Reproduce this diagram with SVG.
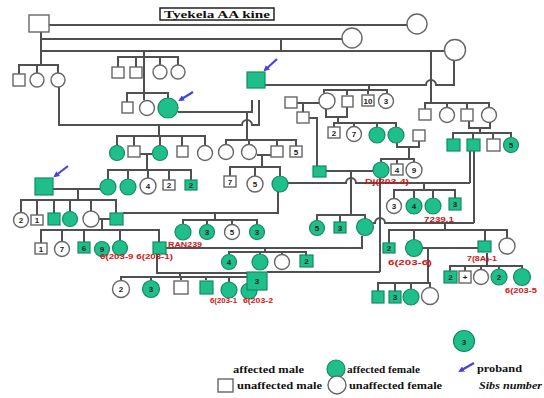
<svg xmlns="http://www.w3.org/2000/svg" width="544" height="398" viewBox="0 0 544 398">
<style>
.l{stroke:#505050;stroke-width:2;fill:none}
.u{fill:#fff;stroke:#666;stroke-width:1.4}
.a{fill:#1fbf8c;stroke:#158a64;stroke-width:1.2}
.n{font-family:"Liberation Sans",Arial,sans-serif;font-size:8px;font-weight:bold;text-anchor:middle;fill:#222}
.r{font-family:"Liberation Sans",Arial,sans-serif;font-size:7px;font-weight:bold;fill:#d41414}
.lg{font-family:"Liberation Serif","Times New Roman",serif;font-size:10.5px;font-weight:bold;fill:#111}
.ar{stroke:#4a3fe0;stroke-width:2.2;fill:none}
</style>
<defs>
<marker id="ah" markerWidth="6" markerHeight="6" refX="4" refY="3" orient="auto" markerUnits="userSpaceOnUse"><path d="M0,0 L6,3 L0,6 z" fill="#4a3fe0"/></marker>
</defs>
<rect width="544" height="398" fill="#fff"/>
<g id="title"><rect x="160" y="8" width="114" height="12" fill="#fff" stroke="#222" stroke-width="1.5"/><text x="164" y="17.5" textLength="106" lengthAdjust="spacingAndGlyphs" font-family="Liberation Serif,serif" font-size="9.5" font-weight="bold" fill="#111">Tyekela AA kine</text></g>
<g id="connectors">
<path class="l" d="M49,25H407M41,32V65M41,39H342M41,51H444M281,39V51"/>
<path class="l" d="M19,74V65H58V73M37,65V73M59,87V125H242a5,5 0 0 1 10,0H259V100"/>
<path class="l" d="M144,51V100M118,67V57H178V65M136,57V67M160,57V65M127,102V93H168V98"/>
<path class="l" d="M178,112H252V100M247,112V140M226,145V140H296V146M249,140V145M277,140V146"/>
<path class="l" d="M159,125V136M117,146V136H205V146M134,136V146M160,136V146M182,136V146"/>
<path class="l" d="M140,154H152M147,154V170M108,179V170H191V180M128,170V179M148,170V178M169,170V180"/>
<path class="l" d="M53,189H100M78,189V200M21,212V200H116V213M37,200V215M54,200V213M70,200V211M91,200V211"/>
<path class="l" d="M99,219H110M102,219V230M41,243V230H159V242M62,230V241M84,230V242M120,230V240"/>
<path class="l" d="M123,213H278V192M215,213V220M183,224V220H257V224M207,220V224M232,220V224"/>
<path class="l" d="M166,248H362V236M265,248V252M229,254V252H306V255M260,252V254M282,252V254"/>
<path class="l" d="M157,254V273H247M180,273V277M121,281V277H249V283M151,277V280M181,277V280M206,277V280M229,277V282"/>
<path class="l" d="M267,272H380M380,178V272M373,223H375a5,5 0 0 1 10,0H474"/>
<path class="l" d="M288,183H346a5,5 0 0 1 10,0H470M351,171V215M326,171H373M317,220V215H365V219M340,215V222"/>
<path class="l" d="M470,151V183M474,151V223"/>
<path class="l" d="M424,183V190M394,198V190H455V198M414,190V198M433,190V198"/>
<path class="l" d="M445,223V230M389,243V230H507V238M414,230V240M485,230V241"/>
<path class="l" d="M422,248H478M428,248V283M378,291V283H430V288M395,283V291M411,283V289"/>
<path class="l" d="M487,253V266M450,271V266H522V268M465,266V271M481,266V270M499,266V269"/>
<path class="l" d="M265,85H426a5,5 0 0 1 10,0H454V60M431,51V103M425,109V103H489V107M447,103V107M467,103V109"/>
<path class="l" d="M469,121V128H490V122M480,128V133M453,139V133H511V137M473,133V139M493,133V139"/>
<path class="l" d="M369,85V90M324,93V90H387V93M347,90V95M368,90V94"/>
<path class="l" d="M297,103H319M303,103V112M309,118H317V166"/>
<path class="l" d="M326,109V117H347V107M338,117V123M334,127V123H396V127M354,123V126M377,123V127"/>
<path class="l" d="M397,143V147H419V141M409,147V159M381,162V159H414V162M397,159V164"/>
<path class="l" d="M257,155H271M262,155V167M230,176V167H280V176M255,167V176"/>
</g>
<g id="n1"><rect class="u" x="29" y="15" width="20" height="17"/></g>
<g id="n2"><circle class="u" cx="352" cy="38" r="10"/></g>
<g id="n3"><circle class="u" cx="417" cy="24" r="10"/></g>
<g id="n4"><circle class="u" cx="455" cy="50" r="10.5"/></g>
<g id="n5"><rect class="u" x="13" y="74" width="12" height="12"/></g>
<g id="n6"><circle class="u" cx="37" cy="80" r="7"/></g>
<g id="n7"><circle class="u" cx="58" cy="80" r="7"/></g>
<g id="n8"><rect class="u" x="112" y="67" width="12" height="11"/></g>
<g id="n9"><rect class="u" x="130" y="67" width="12" height="11"/></g>
<g id="n10"><circle class="u" cx="160" cy="72" r="7"/></g>
<g id="n11"><circle class="u" cx="178" cy="72" r="7"/></g>
<g id="n12"><rect class="a" x="247" y="72" width="18" height="16"/><path class="ar" d="M277,59L265,70" marker-end="url(#ah)"/></g>
<g id="n13"><rect class="u" x="419" y="109" width="12" height="11"/></g>
<g id="n14"><circle class="u" cx="447" cy="115" r="7.5"/></g>
<g id="n15"><rect class="u" x="461" y="109" width="12" height="12"/></g>
<g id="n16"><circle class="u" cx="489" cy="115" r="7.5"/></g>
<g id="n17"><rect class="u" x="122" y="102" width="11" height="11"/></g>
<g id="n18"><circle class="u" cx="147" cy="108" r="7.5"/></g>
<g id="n19"><circle class="a" cx="168" cy="108" r="10"/><path class="ar" d="M193,92L180,100" marker-end="url(#ah)"/></g>
<g id="n20"><rect class="u" x="285" y="97" width="12" height="11"/></g>
<g id="n21"><circle class="u" cx="327" cy="101" r="8"/></g>
<g id="n22"><rect class="u" x="342" y="96" width="11" height="11"/></g>
<g id="n23"><rect class="u" x="362" y="95" width="12" height="11"/><text class="n" x="368" y="103.5">10</text></g>
<g id="n24"><circle class="u" cx="386" cy="101" r="7.5"/><text class="n" x="386" y="104">3</text></g>
<g id="n25"><rect class="u" x="297" y="112" width="12" height="11"/></g>
<g id="n26"><rect class="a" x="447" y="139" width="13" height="12"/></g>
<g id="n27"><rect class="a" x="467" y="139" width="13" height="12"/></g>
<g id="n28"><rect class="u" x="487" y="139" width="13" height="12"/></g>
<g id="n29"><circle class="a" cx="511" cy="145" r="7.5"/><text class="n" x="511" y="148">5</text></g>
<g id="n30"><circle class="a" cx="117" cy="153" r="7.5"/></g>
<g id="n31"><rect class="u" x="128" y="146" width="12" height="11"/></g>
<g id="n32"><circle class="a" cx="160" cy="153" r="7.5"/></g>
<g id="n33"><rect class="u" x="177" y="146" width="11" height="11"/></g>
<g id="n34"><circle class="u" cx="205" cy="153" r="7.5"/></g>
<g id="n35"><circle class="u" cx="226" cy="152" r="7.5"/></g>
<g id="n36"><circle class="u" cx="249" cy="152" r="7.5"/></g>
<g id="n37"><rect class="u" x="271" y="146" width="12" height="11"/></g>
<g id="n38"><rect class="u" x="290" y="146" width="12" height="11"/><text class="n" x="296" y="154.5">5</text></g>
<g id="n39"><rect class="u" x="328" y="127" width="12" height="11"/><text class="n" x="334" y="135.5">2</text></g>
<g id="n40"><circle class="u" cx="354" cy="134" r="7.5"/><text class="n" x="354" y="137">7</text></g>
<g id="n41"><circle class="a" cx="377" cy="135" r="8"/></g>
<g id="n42"><circle class="a" cx="396" cy="135" r="8"/></g>
<g id="n43"><rect class="u" x="413" y="130" width="12" height="11"/></g>
<g id="n44"><rect class="a" x="35" y="178" width="18" height="17"/><path class="ar" d="M68,166L55,176" marker-end="url(#ah)"/></g>
<g id="n45"><circle class="a" cx="108" cy="187" r="8"/></g>
<g id="n46"><circle class="a" cx="128" cy="187" r="8"/></g>
<g id="n47"><circle class="u" cx="148" cy="186" r="8"/><text class="n" x="148" y="189">4</text></g>
<g id="n48"><rect class="u" x="163" y="180" width="12" height="10"/><text class="n" x="169" y="188">2</text></g>
<g id="n49"><rect class="a" x="185" y="180" width="12" height="10"/><text class="n" x="191" y="188">2</text></g>
<g id="n50"><rect class="u" x="224" y="176" width="12" height="11"/><text class="n" x="230" y="184.5">7</text></g>
<g id="n51"><circle class="u" cx="255" cy="184" r="8"/><text class="n" x="255" y="187">5</text></g>
<g id="n52"><circle class="a" cx="280" cy="184" r="8"/></g>
<g id="n53"><rect class="a" x="313" y="166" width="13" height="11"/></g>
<g id="n54"><circle class="a" cx="381" cy="170" r="8"/></g>
<g id="n55"><rect class="u" x="391" y="164" width="12" height="11"/><text class="n" x="397" y="172.5">4</text></g>
<g id="n56"><circle class="u" cx="414" cy="170" r="8"/><text class="n" x="414" y="173">9</text></g>
<g id="n57"><circle class="u" cx="394" cy="206" r="7.5"/><text class="n" x="394" y="209">3</text></g>
<g id="n58"><circle class="a" cx="414" cy="206" r="8"/><text class="n" x="414" y="209">4</text></g>
<g id="n59"><circle class="a" cx="433" cy="206" r="8"/></g>
<g id="n60"><rect class="a" x="449" y="198" width="12" height="12"/><text class="n" x="455" y="207">3</text></g>
<g id="n61"><circle class="u" cx="21" cy="220" r="7.5"/><text class="n" x="21" y="223">2</text></g>
<g id="n62"><rect class="u" x="31" y="215" width="12" height="10"/><text class="n" x="37" y="223">1</text></g>
<g id="n63"><rect class="a" x="48" y="213" width="12" height="12"/></g>
<g id="n64"><circle class="a" cx="70" cy="219" r="7.5"/></g>
<g id="n65"><circle class="u" cx="91" cy="219" r="8"/></g>
<g id="n66"><rect class="a" x="110" y="213" width="13" height="12"/></g>
<g id="n67"><circle class="a" cx="317" cy="228" r="7.5"/><text class="n" x="317" y="231">5</text></g>
<g id="n68"><rect class="a" x="334" y="222" width="12" height="11"/><text class="n" x="340" y="230.5">3</text></g>
<g id="n69"><circle class="a" cx="365" cy="227" r="8.5"/></g>
<g id="n70"><circle class="a" cx="183" cy="232" r="8"/></g>
<g id="n71"><circle class="a" cx="207" cy="232" r="7.5"/><text class="n" x="207" y="235">3</text></g>
<g id="n72"><circle class="u" cx="232" cy="232" r="7.5"/><text class="n" x="232" y="235">5</text></g>
<g id="n73"><circle class="a" cx="257" cy="232" r="7.5"/><text class="n" x="257" y="235">3</text></g>
<g id="n74"><rect class="u" x="35" y="243" width="12" height="11"/><text class="n" x="41" y="251.5">1</text></g>
<g id="n75"><circle class="u" cx="62" cy="249" r="7.5"/><text class="n" x="62" y="252">7</text></g>
<g id="n76"><rect class="a" x="78" y="242" width="12" height="11"/><text class="n" x="84" y="250.5">6</text></g>
<g id="n77"><circle class="a" cx="102" cy="249" r="7.5"/><text class="n" x="102" y="252">9</text></g>
<g id="n78"><circle class="a" cx="120" cy="248" r="7.5"/></g>
<g id="n79"><rect class="a" x="153" y="242" width="13" height="12"/></g>
<g id="n80"><rect class="a" x="383" y="243" width="12" height="10"/><text class="n" x="389" y="251">2</text></g>
<g id="n81"><circle class="a" cx="414" cy="248" r="8.5"/></g>
<g id="n82"><rect class="a" x="478" y="241" width="13" height="11"/></g>
<g id="n83"><circle class="u" cx="507" cy="246" r="8"/></g>
<g id="n84"><circle class="a" cx="229" cy="262" r="7.5"/><text class="n" x="229" y="265">4</text></g>
<g id="n85"><circle class="a" cx="260" cy="262" r="8"/></g>
<g id="n86"><circle class="u" cx="282" cy="262" r="7.5"/></g>
<g id="n87"><rect class="a" x="300" y="255" width="13" height="12"/><text class="n" x="306.5" y="264">2</text></g>
<g id="n88"><rect class="a" x="444" y="271" width="13" height="12"/><text class="n" x="450.5" y="280">2</text></g>
<g id="n89"><rect class="u" x="459" y="271" width="12" height="12"/><text class="n" x="465" y="280">+</text></g>
<g id="n90"><circle class="u" cx="481" cy="277" r="7.5"/></g>
<g id="n91"><circle class="a" cx="499" cy="277" r="8"/><text class="n" x="499" y="280">2</text></g>
<g id="n92"><circle class="a" cx="522" cy="277" r="8.5"/></g>
<g id="n99"><circle class="a" cx="249" cy="291" r="8"/></g>
<g id="n93"><rect class="a" x="247" y="272" width="20" height="18"/><text class="n" x="257" y="284" font-size="10">3</text></g>
<g id="n94"><circle class="u" cx="121" cy="289" r="8.5"/><text class="n" x="121" y="292">2</text></g>
<g id="n95"><circle class="a" cx="151" cy="289" r="8.5"/><text class="n" x="151" y="292">3</text></g>
<g id="n96"><rect class="u" x="174" y="281" width="14" height="13"/></g>
<g id="n97"><rect class="a" x="200" y="281" width="13" height="13"/></g>
<g id="n98"><circle class="a" cx="229" cy="290" r="8"/></g>
<g id="n100"><rect class="a" x="372" y="291" width="12" height="12"/></g>
<g id="n101"><rect class="a" x="389" y="291" width="12" height="12"/><text class="n" x="395" y="300">3</text></g>
<g id="n102"><circle class="a" cx="411" cy="297" r="8"/></g>
<g id="n103"><circle class="u" cx="430" cy="296" r="8.5"/></g>
<g id="labels">
<text class="r" x="365" y="184" textLength="44" lengthAdjust="spacingAndGlyphs">Dj(203-4)</text>
<text class="r" x="424" y="222" textLength="30" lengthAdjust="spacingAndGlyphs">7239.1</text>
<text class="r" x="388" y="265" textLength="44" lengthAdjust="spacingAndGlyphs">6(203-6)</text>
<text class="r" x="467" y="261" textLength="30" lengthAdjust="spacingAndGlyphs">7(8A)-1</text>
<text class="r" x="505" y="293" textLength="32" lengthAdjust="spacingAndGlyphs">6(203-5</text>
<text class="r" x="168" y="247" textLength="34" lengthAdjust="spacingAndGlyphs">RAN239</text>
<text class="r" x="100" y="259" textLength="73" lengthAdjust="spacingAndGlyphs">6(203-9 6(203-1)</text>
<text class="r" x="210" y="303" textLength="27" lengthAdjust="spacingAndGlyphs">6(203-1</text>
<text class="r" x="243" y="303" textLength="30" lengthAdjust="spacingAndGlyphs">6(203-2</text>
</g>
<g id="legend">
<g id="sib"><circle class="a" cx="464" cy="341" r="10.5"/><text class="n" x="464" y="345" font-size="10">3</text></g>
<text class="lg" x="233" y="373" textLength="71" lengthAdjust="spacingAndGlyphs">affected male</text>
<circle class="a" cx="336" cy="369" r="9"/>
<text class="lg" x="347" y="373" textLength="73" lengthAdjust="spacingAndGlyphs">affected female</text>
<path class="ar" d="M474,363L460,371" marker-end="url(#ah)"/>
<text class="lg" x="477" y="372" textLength="45" lengthAdjust="spacingAndGlyphs">proband</text>
<rect class="u" x="218" y="379" width="15" height="13"/>
<text class="lg" x="237" y="389" textLength="85" lengthAdjust="spacingAndGlyphs">unaffected male</text>
<circle class="u" cx="337" cy="385" r="9"/>
<text class="lg" x="349" y="389" textLength="93" lengthAdjust="spacingAndGlyphs">unaffected female</text>
<text class="lg" x="479" y="389" font-style="italic" textLength="63" lengthAdjust="spacingAndGlyphs">Sibs number</text>
</g>
</svg>
